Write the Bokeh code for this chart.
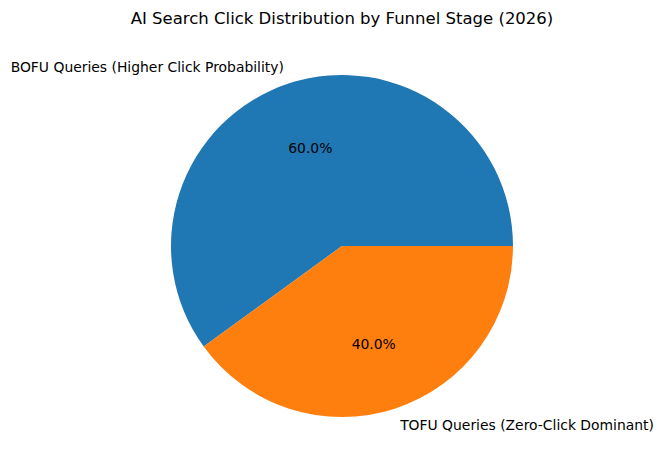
import math
from bokeh.plotting import figure
from bokeh.models import Range1d, ColumnDataSource
from bokeh.core.properties import value
from bokeh.embed import file_html
from bokeh.resources import INLINE

title_text = "AI Search Click Distribution by Funnel Stage (2026)"
categories = ["BOFU Queries (Higher Click Probability)", "TOFU Queries (Zero-Click Dominant)"]
shares = [60, 40]
colors = ["#1f77b4", "#ff7f0e"]

W, H = 663, 470
# data coordinates: x = screen x, y = 470 - screen y
p = figure(width=W, height=H, x_range=Range1d(0, W), y_range=Range1d(470 - H, 470),
           toolbar_location=None, output_backend="svg", min_border=0,
           x_axis_location=None, y_axis_location=None)
p.grid.visible = False
p.outline_line_color = None

cx, cy, r = 341.5, 470 - 245.5, 171.0
total = sum(shares)
starts, ends, mids = [], [], []
acc = 0.0
for s in shares:
    a0 = 2 * math.pi * acc / total
    acc += s
    a1 = 2 * math.pi * acc / total
    starts.append(a0)
    ends.append(a1)
    mids.append((a0 + a1) / 2)

src = ColumnDataSource(dict(start=starts, end=ends, color=colors))
p.wedge(x=cx, y=cy, radius=r, start_angle="start", end_angle="end",
        fill_color="color", line_color=None, source=src)

lx = [cx + 1.1 * r * math.cos(m) for m in mids]
ly = [cy + 1.1 * r * math.sin(m) for m in mids]
align = ["right" if math.cos(m) < 0 else "left" for m in mids]
p.text(x=lx, y=ly, text=categories, text_align=align, text_baseline="middle",
       text_font=value("DejaVu Sans"), text_font_size="13.9px", text_color="black")

px = [cx + 0.6 * r * math.cos(m) for m in mids]
py = [cy + 0.6 * r * math.sin(m) for m in mids]
pct = ["%.1f%%" % (100.0 * s / total) for s in shares]
p.text(x=px, y=py, text=pct, text_align="center", text_baseline="middle",
       text_font=value("DejaVu Sans"), text_font_size="13.9px", text_color="black")

p.text(x=[cx], y=[470 - 18], text=[title_text], text_align="center", text_baseline="middle",
       text_font=value("DejaVu Sans"), text_font_size="16.5px", text_color="black")

open("out.html", "w").write(file_html(p, INLINE))
